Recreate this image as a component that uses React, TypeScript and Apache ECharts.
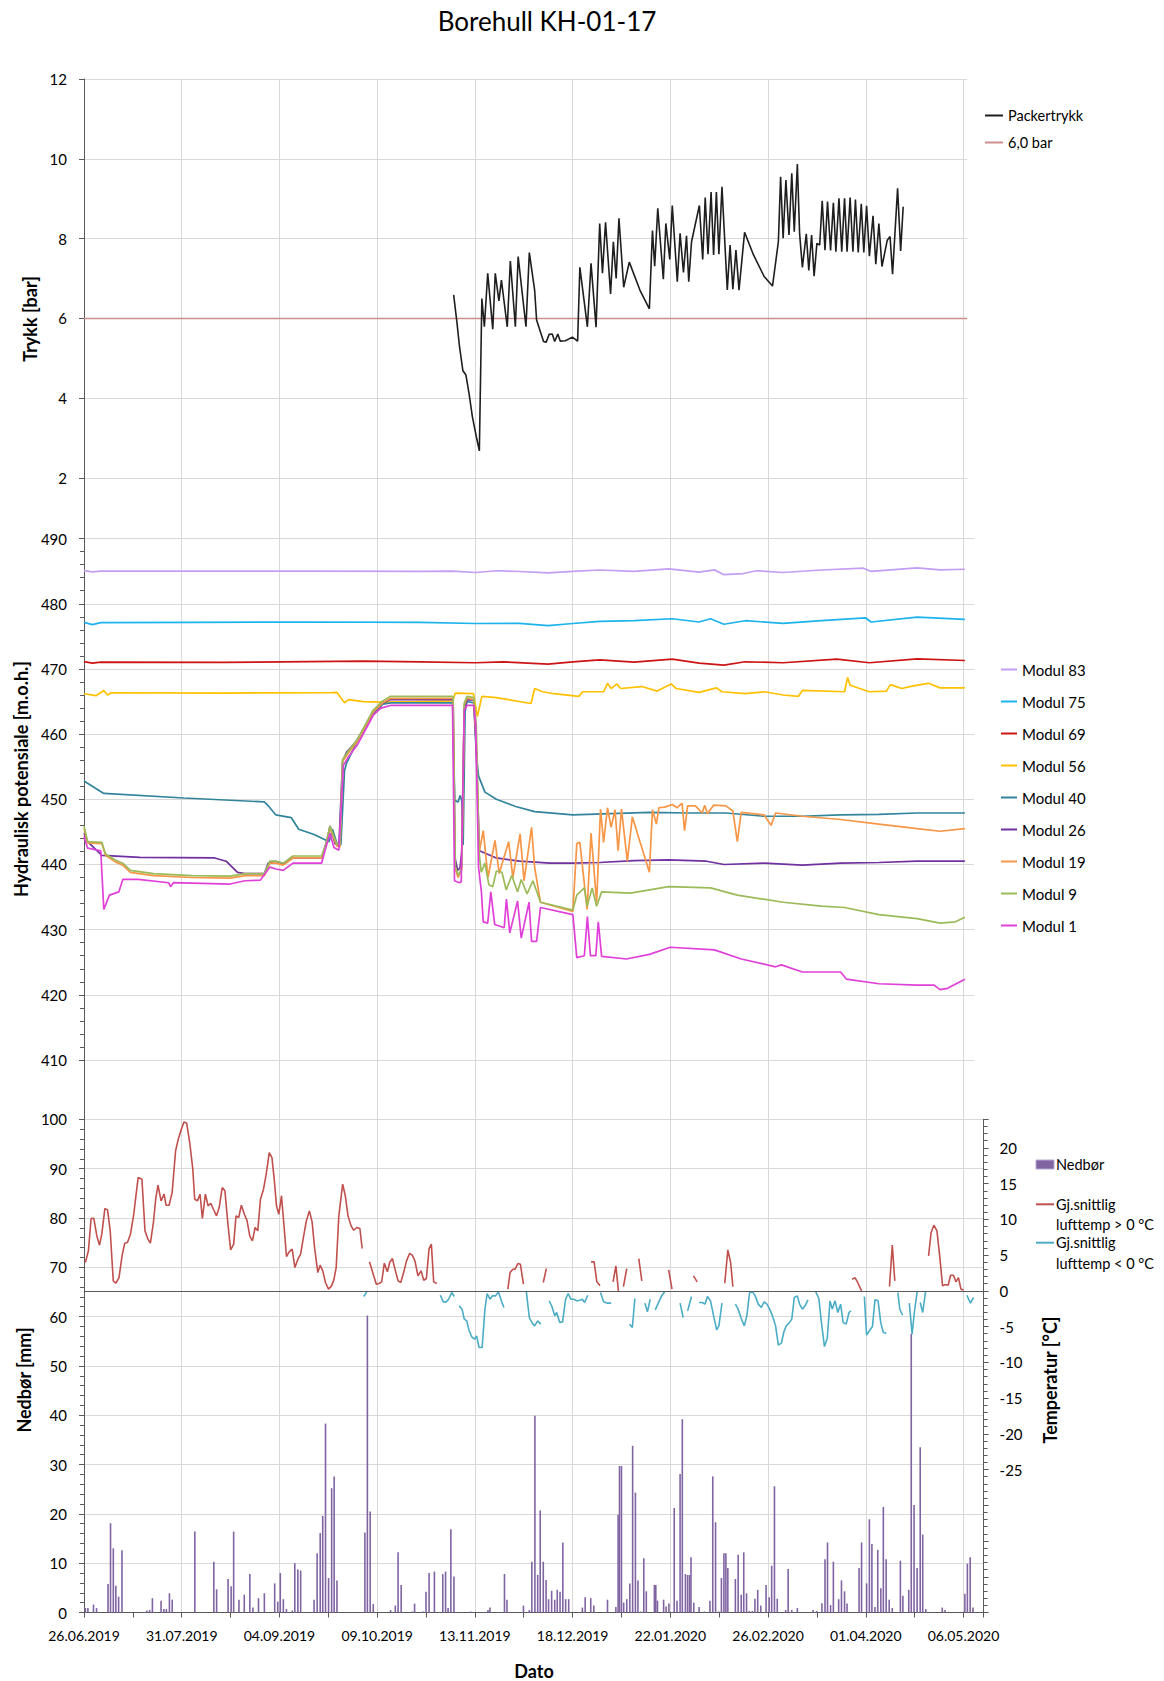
import React, { useEffect, useRef } from 'react';
import * as echarts from 'echarts';

// ---------- axis / tick data ----------
const START_UTC = Date.UTC(2019, 5, 26); // 26.06.2019 = day 0
const X_INTERVAL_DAYS = 35;
const X_MAX_TOP = 316.3;
const X_MAX_MID = 318.8;
const X_MAX_BOT = 322.2;
const X_MAX_BG = 315;
const LIMIT_BAR = 6.0;

// ---------- top panel: Packertrykk [bar] (day, value) ----------
const packertrykk: [number, number][] = [
  [132.4,6.59],[133.6,5.88],[134.5,5.29],[135.7,4.69],[136.8,4.58],[137.9,4.12],[139.1,3.54],[140.5,3.04],[141.6,2.68],
  [142.5,6.50],[143.4,5.79],[144.6,7.13],[146.4,5.73],[147.3,7.13],[148.6,6.44],[149.5,6.96],[151.6,5.79],[152.7,7.44],
  [154.5,5.79],[155.5,7.55],[158.3,5.79],[159.5,7.65],[161.4,6.71],[162.1,5.96],[164.6,5.42],[165.5,5.40],[166.6,5.60],
  [167.7,5.61],[168.6,5.42],[169.7,5.61],[170.6,5.43],[172.4,5.44],[174.9,5.53],[176.8,5.43],[177.6,7.28],[180.3,5.79],
  [181.6,7.38],[183.4,5.78],[184.7,8.38],[185.7,7.13],[186.8,8.41],[188.6,6.61],[189.6,7.92],[190.6,7.00],[191.6,8.51],
  [193.3,6.78],[195.3,7.41],[199.1,6.71],[202.5,6.24],[203.6,8.20],[204.4,7.31],[205.5,8.76],[207.5,6.98],[208.4,8.38],
  [209.8,7.48],[210.7,8.83],[212.5,6.92],[213.5,8.13],[214.7,7.15],[215.8,8.07],[216.6,6.92],[217.6,7.92],[220.4,8.83],
  [221.6,7.48],[222.5,9.03],[223.5,7.61],[224.6,9.17],[225.5,7.59],[226.5,9.17],[227.4,7.61],[228.5,9.30],[230.4,6.71],
  [231.4,7.84],[232.4,6.73],[233.5,7.71],[234.6,6.71],[236.6,8.16],[239.8,7.59],[243.6,7.05],[246.6,6.81],[248.7,7.92],
  [249.5,9.55],[250.4,8.01],[251.4,9.47],[252.5,8.09],[253.5,9.64],[254.4,8.17],[255.5,9.87],[256.3,8.13],[257.3,7.28],
  [258.7,8.12],[259.6,7.20],[260.6,8.09],[261.5,7.06],[262.5,7.88],[263.5,7.84],[264.4,8.95],[265.4,7.71],[266.3,8.93],
  [267.4,7.70],[268.4,8.90],[269.3,7.67],[270.4,9.01],[271.4,7.67],[272.4,9.01],[273.3,7.67],[274.4,9.03],[275.4,7.67],
  [276.3,8.98],[277.3,7.65],[278.4,8.87],[279.3,7.65],[280.3,8.82],[281.3,7.56],[282.6,8.57],[283.6,7.36],[284.7,8.38],
  [285.8,7.30],[287.7,7.96],[288.7,8.05],[289.6,7.11],[291.4,9.26],[292.5,7.69],[293.4,8.80]
];

// ---------- middle panel: hydraulic potential [m.o.h.] ----------
const modul83: [number, number][] = [
  [0,485.1],[3,484.9],[6,485.0],[40,485.0],[80,485.0],[120.4,484.96],[132,485.0],[140.2,484.8],[147.7,485.07],[156,484.95],
  [166.2,484.75],[175.1,484.96],[184.7,485.18],[197,484.96],[209.4,485.35],[220.3,484.86],[225.8,485.2],[229.2,484.47],
  [236.1,484.64],[240.9,485.07],[250.4,484.8],[264.1,485.18],[279.2,485.46],[281.9,484.96],[298.4,485.5],[306.6,485.2],[315.5,485.3]
];
const modul75: [number, number][] = [
  [0,477.14],[3,476.8],[6,477.1],[40,477.15],[80,477.2],[120.4,477.14],[140.2,476.97],[156,477.0],[166.2,476.64],[175.1,476.97],
  [184.7,477.3],[197,477.4],[210.7,477.7],[220.3,477.2],[224.4,477.7],[229.2,476.86],[236.8,477.4],[250.4,477.0],[264.1,477.4],
  [279.9,477.85],[281.9,477.2],[298.4,477.96],[315.5,477.6]
];
const modul69: [number, number][] = [
  [0,471.12],[3,470.9],[6,471.05],[50,471.0],[100,471.2],[120.4,471.1],[140.2,470.95],[150,471.1],[166.2,470.73],[175.1,471.1],
  [184.7,471.4],[197,471.05],[210.7,471.5],[220.3,470.9],[229.2,470.6],[236.8,471.1],[250.4,470.95],[269.6,471.5],[281.3,470.95],
  [298.4,471.55],[315.5,471.3]
];
const modul56: [number, number][] = [
  [0,466.2],[4.3,465.9],[7.1,466.7],[8.4,466.0],[9.8,466.35],[50,466.3],[87.8,466.35],[90.6,466.4],[93.3,464.8],[94.7,465.3],
  [100,465.0],[107,464.9],[120,465.0],[132,465.1],[133,466.3],[139.5,466.2],[140.9,462.7],[142.5,465.8],[147.7,465.6],[160.1,464.7],
  [161.4,467.0],[164.2,466.5],[168.3,466.2],[177.2,465.8],[178.6,466.5],[186.1,466.5],[187.5,467.8],[188.8,467.0],[190.9,467.7],
  [192.2,467.0],[199.8,467.3],[205.3,466.6],[210.3,467.7],[212.1,467.0],[220.3,466.4],[226.5,467.1],[228.5,466.5],[236.8,466.2],
  [243.6,466.5],[250.4,466.0],[255.9,465.8],[257.3,466.7],[272.4,466.5],[273.5,468.7],[274.4,467.5],[281.3,466.5],[287.4,466.6],
  [288.8,467.6],[292.9,467.0],[297,467.4],[302.5,467.8],[306.6,467.1],[315.5,467.1]
];
const modul40: [number, number][] = [
  [0,452.8],[7.1,450.9],[35.8,450.2],[64.6,449.6],[66,449.0],[68.7,447.6],[74.2,447.2],[76.9,445.4],[82.4,444.6],[87.8,443.5],
  [89,445.4],[90.6,443.2],[92,443.0],[93.3,454.4],[94,455.5],[97.4,458.5],[103.6,463.0],[107,464.6],[110,464.8],[132.0,464.8],
  [132.8,449.8],[134.0,449.6],[134.7,450.6],[135.3,449.8],[135.8,443.0],[136.5,463.5],[137.2,465.0],[139.6,464.8],[140.5,457.0],
  [141.3,453.6],[143.6,451.1],[147.7,450.0],[154.6,448.9],[161.4,448.1],[175.1,447.6],[188.8,447.8],[202.5,448.0],[216.2,447.9],
  [229.9,447.9],[243.6,447.4],[257.3,447.4],[271,447.6],[284.7,447.7],[298.4,447.9],[315.5,447.9]
];
const modul26: [number, number][] = [
  [0,444.8],[1.3,443.5],[6.4,441.4],[20,441.1],[46.8,441.0],[50.9,440.5],[55,438.8],[57.7,438.6],[64.6,438.6],[66,440.2],
  [68.7,440.5],[71.4,440.1],[74.2,441.0],[85.1,441.0],[87.2,444.0],[88.1,445.9],[89.9,443.2],[91.3,442.9],[92.6,455.8],[94,457.2],
  [97.4,458.8],[103.6,463.4],[107,464.8],[109.8,465.3],[132.2,465.3],[132.9,441.0],[133.8,439.1],[134.7,439.5],[135.3,442.0],
  [136.2,464.0],[137.2,465.3],[139.6,465.2],[140.5,458.0],[141.6,442.1],[147.7,441.0],[156,440.5],[166.9,440.2],[175.1,440.2],
  [184.7,440.3],[197,440.6],[209.4,440.7],[223,440.5],[229.2,440.0],[243.6,440.2],[257.3,439.9],[271,440.2],[284.7,440.3],
  [298.4,440.5],[315.5,440.5]
];
const modul19: [number, number][] = [
  [0,445.5],[1.3,443.3],[6.4,443.2],[7.7,441.4],[11.2,440.4],[13.9,439.9],[16.6,438.8],[24.9,438.3],[38.6,438.0],[52.3,437.9],
  [57.7,438.3],[64.6,438.3],[66.6,440.2],[68.7,440.2],[71.4,439.9],[74.8,441.0],[85.1,441.0],[86.5,442.6],[88.1,445.6],[89.5,444.0],
  [90.6,442.8],[91.7,442.7],[92.6,455.8],[94.7,457.1],[98.1,459.0],[103.6,463.4],[107,464.8],[109.8,465.5],[132.2,465.5],
  [132.9,439.4],[134.0,438.0],[135.3,439.2],[136.2,464.5],[137.2,465.5],[139.6,465.3],[140.5,459.0],[141.5,441.8],
  [143,445.2],[144.7,438],[147.2,443.7],[148.7,438.6],[152.1,443.5],[153.6,438],[156.2,444.7],[157.6,437.5],[160.3,445.7],
  [161.4,439.6],[163.5,434.2],[175.1,432.8],[176.5,443.2],[177.6,443.4],[180.2,433.1],[181.6,444.8],[183.6,434.2],[185,448.5],
  [186.1,443.4],[187.5,448.7],[188.8,445.7],[190.2,448.4],[191.3,442.1],[192.5,448.5],[194.6,440.5],[196.4,447.3],[202.5,438.8],
  [203.6,448.4],[205,446.2],[205.9,448.7],[208,448.8],[210.7,449.2],[212.4,448.7],[214.2,449.4],[215.1,445.2],[216.2,449.0],
  [219,449.0],[221.4,447.9],[222.3,449.1],[223.3,447.8],[225.5,449.1],[229.9,449.0],[232.4,448.2],[234,443.5],[235.4,448.0],
  [243.6,447.6],[246.1,446.0],[247.7,447.9],[257.3,447.4],[271,446.9],[284.7,446.2],[298.4,445.5],[306.6,445.1],[315.5,445.5]
];
const modul9: [number, number][] = [
  [0,445.9],[1.3,443.5],[6.4,443.4],[7.7,441.6],[11.2,440.7],[13.9,440.2],[16.6,439.1],[24.9,438.6],[38.6,438.3],[52.3,438.2],
  [57.7,438.6],[64.6,438.6],[66.6,440.5],[68.7,440.5],[71.4,440.2],[74.8,441.3],[85.1,441.3],[86.5,442.9],[88.1,445.9],[89.5,444.3],
  [90.6,443.1],[91.7,443.1],[92.6,456.1],[94.7,457.4],[98.1,459.3],[103.6,463.7],[107,465.1],[109.8,465.8],[132.2,465.8],
  [133.0,439.6],[134.2,438.3],[135.3,439.6],[136.2,464.8],[137.2,465.8],[139.6,465.6],[140.5,461.5],[141.5,441.8],
  [142.3,438.8],[143.6,440.2],[145,436.9],[146.4,436.6],[147.7,439.0],[149.7,438.8],[151.2,436.1],[153.2,438.3],[155.3,435.8],
  [156.6,437.7],[158.7,435.5],[160.8,437.5],[163.5,434.2],[175.1,433.0],[176.5,435.3],[179.2,436.4],[180.2,433.6],[182,436.4],
  [183.6,433.6],[185.4,435.8],[195.7,435.6],[209.4,436.6],[224.4,436.4],[234,435.3],[250.4,434.2],[264.1,433.6],[272.4,433.4],
  [284.7,432.3],[298.4,431.7],[306.6,431.0],[312.1,431.2],[315.5,431.9]
];
const modul1: [number, number][] = [
  [0,444.3],[1.3,442.5],[6.0,442.1],[7.1,433.1],[9.1,435.3],[12.5,435.8],[13.9,437.7],[19.4,437.7],[30.3,437.2],[31.0,436.6],
  [32.0,437.2],[52.3,437.0],[57.7,437.5],[63.2,437.6],[66.6,439.6],[68.7,439.3],[71.4,439.1],[74.8,440.2],[85.1,440.2],[86.5,442.4],
  [88.1,444.8],[89.5,442.6],[91.3,442.2],[92.9,455.2],[94.7,456.5],[98.1,458.5],[103.6,462.9],[106.3,464.0],[109.8,464.4],
  [132.0,464.4],[132.7,437.5],[134.5,437.2],[135.1,437.3],[136.2,463.7],[137.2,464.4],[139.6,464.4],[140.3,461.5],[141.3,439.6],
  [142.3,436.0],[143.0,431.2],[144.6,431.0],[145.7,435.8],[147.1,430.8],[150.5,430.3],[151.3,434.7],[152.5,429.5],[155.3,434.4],
  [156.6,428.7],[159.4,434.2],[160.3,428.2],[162.1,428.2],[163.5,433.4],[175.1,432.3],[176.5,425.7],[179.2,426.0],[180.3,432.0],
  [181.4,426.0],[183.3,426.0],[184.2,431.2],[185.4,425.9],[194.3,425.5],[202.5,426.2],[210,427.3],[225.8,426.9],[235.4,425.5],
  [247.7,424.3],[249.8,424.6],[257.3,423.5],[271,423.5],[273.1,422.4],[284.7,421.7],[298.4,421.5],[304.5,421.5],[306.6,420.8],
  [309.3,421.0],[315.5,422.4]
];

// ---------- bottom panel: precipitation [mm] (day, mm) ----------
const nedbor: [number, number][] = [
  [0.5,0.9],[1.4,0.9],[3.4,1.6],[4.5,0.9],[8.6,5.8],[9.5,18.1],[10.5,13.0],[11.4,5.4],[12.4,3.2],[13.6,12.6],[22.5,0.4],[23.5,0.5],
  [24.5,2.9],[27.6,2.4],[28.6,0.7],[29.5,0.7],[30.6,3.9],[31.6,2.6],[39.7,16.4],[46.5,10.3],[47.5,4.7],[51.6,6.8],[52.7,5.3],
  [53.6,16.4],[55.5,2.6],[57.4,3.6],[59.4,7.8],[60.5,1.0],[62.5,2.9],[64.6,3.9],[68.3,5.9],[69.4,2.2],[70.3,8.0],[71.4,2.7],
  [72.5,0.7],[74.6,0.4],[75.5,10.0],[76.6,8.7],[77.6,8.5],[82.4,2.6],[83.5,12.0],[84.6,16.1],[85.5,19.6],[86.5,38.3],[87.6,7.0],
  [88.7,25.2],[89.6,27.6],[90.6,6.5],[100.6,16.2],[101.5,60.2],[102.5,20.5],[103.6,1.7],[109.8,0.5],[111.5,1.4],[112.5,12.2],
  [113.6,5.6],[117.6,0.2],[118.4,1.8],[121.4,0.2],[122.5,4.2],[123.6,8.0],[125.5,8.3],[128.5,7.8],[129.5,8.3],[130.4,0.9],
  [131.4,16.9],[132.5,7.3],[138.5,0.2],[144.7,0.5],[145.4,1.0],[150.6,7.8],[151.5,2.6],[157.4,1.4],[159.5,0.5],[160.4,10.3],
  [161.5,39.9],[162.5,7.6],[163.4,20.7],[164.5,10.3],[165.5,6.6],[166.4,2.7],[167.5,4.4],[168.6,2.6],[169.5,4.6],[170.5,4.2],
  [171.5,14.2],[172.5,2.7],[173.6,2.7],[178.5,1.0],[179.5,3.1],[181.5,2.9],[182.6,1.4],[187.5,2.6],[190.5,1.1],[191.3,19.8],
  [191.8,29.7],[192.5,29.7],[193.3,2.0],[194.4,2.7],[195.5,5.9],[196.5,33.8],[197.5,24.3],[198.4,6.5],[199.4,0.2],[200.5,11.0],
  [201.4,4.3],[204.3,5.6],[204.8,5.6],[205.4,2.4],[207.6,2.6],[208.5,1.2],[209.5,1.8],[211.4,21.2],[212.4,2.4],[213.5,28.1],
  [214.3,39.2],[215.4,7.8],[216.2,7.6],[216.9,7.6],[217.4,11.2],[218.4,2.0],[220.3,1.1],[222.2,0.2],[224.2,2.4],[225.2,27.6],
  [226.2,18.3],[227.3,0.2],[228.3,7.0],[229.2,12.0],[229.9,12.0],[230.6,9.0],[233.3,6.8],[234.3,11.7],[235.4,3.6],[236.3,12.2],
  [237.3,3.9],[238.3,0.3],[239.4,0.3],[240.3,2.8],[241.3,4.6],[242.4,1.4],[244.3,5.6],[245.4,3.1],[246.3,9.5],[247.3,25.6],
  [248.3,2.8],[251.3,0.5],[252.2,8.8],[253.5,0.5],[255.5,0.9],[261.1,0.5],[262.4,0.3],[264.3,1.9],[265.4,10.8],[266.3,14.2],
  [267.4,1.5],[268.4,10.3],[270.3,2.7],[271.3,6.5],[272.4,4.3],[273.3,1.8],[277.6,9.0],[278.5,14.2],[280.3,5.9],[281.3,18.9],
  [282.2,13.9],[283.3,1.1],[284.3,12.7],[285.4,4.9],[286.3,21.4],[287.3,10.8],[288.4,2.6],[289.5,0.9],[292.4,10.5],[293.3,3.4],
  [295.4,4.6],[296.3,56.5],[297.3,21.8],[298.4,9.0],[299.5,33.5],[300.4,15.8],[301.5,0.7],[307.4,1.0],[308.4,0.5],[315.5,3.8],
  [316.4,9.9],[317.4,11.2],[318.4,1.0]
];

// ---------- bottom panel: mean air temperature [°C], segments ----------
const tempAbove0: [number, number][][] = [
  [[0.49,3.96],[1.58,5.59],[2.54,10.12],[3.5,10.16],[4.6,7.69],[5.55,6.39],[6.38,7.93],[7.47,11.51],[8.43,11.33],[9.39,8.39],
   [10.48,1.4],[11.44,1.07],[12.54,1.86],[13.63,4.9],[14.59,6.67],[15.55,6.76],[16.65,7.93],[17.74,10.49],[19.39,15.85],[20.75,15.62],
   [21.85,8.39],[22.81,7.32],[23.77,6.67],[24.86,9.56],[25.68,12.82],[26.5,14.78],[27.6,12.59],[28.7,13.52],[29.38,11.98],[30.48,11.98],
   [31.57,13.75],[32.8,19.58],[33.76,21.21],[34.86,22.61],[35.82,23.64],[36.78,23.45],[37.87,20.75],[38.97,17.02],[39.65,12.82],
   [40.61,12.59],[41.57,13.52],[42.39,10.12],[43.48,13.52],[44.44,11.89],[45.4,12.26],[46.36,11.42],[47.46,10.49],[48.41,11.66],
   [49.51,14.45],[50.47,13.99],[51.56,9.32],[52.52,5.73],[53.62,6.53],[54.44,10.49],[55.4,10.26],[56.36,11.98],[57.45,10.72],
   [58.41,9.79],[59.37,7.69],[60.33,6.99],[61.29,8.86],[62.24,8.39],[63.2,12.82],[64.3,14.22],[65.26,16.32],[66.35,19.35],
   [67.31,18.65],[68.13,15.62],[68.95,11.89],[69.78,10.72],[70.73,13.29],[71.69,8.86],[72.51,4.8],[73.47,5.45],[74.57,5.83],
   [75.53,3.26],[76.62,4.43],[77.58,5.13],[78.68,7.69],[79.64,9.79],[80.73,11.19],[81.69,9.65],[82.65,5.83],[83.74,2.56],
   [84.57,3.59],[85.52,2.8],[86.48,1.17],[87.58,0.23],[88.67,0.7],[89.49,1.54],[90.32,3.26],[91.27,10.49],[92.64,14.92],
   [93.6,13.29],[94.56,10.49],[95.66,9.09],[96.61,8.48],[97.71,8.86],[98.81,8.72],[99.63,5.92]],
  [[102.23,4.06],[103.6,2.33],[104.7,0.93],[105.65,1.03],[106.61,1.26],[107.57,3.87],[108.66,2.66],[109.49,3.96],[110.45,4.52],
   [111.54,2.8],[112.5,1.4],[113.46,1.17],[114.55,2.66],[115.51,4.2],[116.61,5.22],[117.57,4.99],[118.53,4.2],[119.62,2.1],
   [120.72,2.8],[121.68,1.49],[122.63,1.72],[123.59,5.92],[124.41,6.53],[125.24,1.26],[126.33,1.03]],
  [[151.8,0.23],[152.6,2.56],[153.6,3.03],[154.4,3.03],[155.4,3.82],[156.3,3.73],[157.4,0.93]],
  [[164.5,1.17],[165.6,3.12]],
  [[181.6,4.06],[182.7,4.06],[183.7,1.26],[184.8,0.7]],
  [[189.5,1.26],[190.5,3.5],[191.4,0]],
  [[193.2,0.6],[194.4,3.1]],
  [[198.7,4.52],[199.8,1.4]],
  [[209.4,2.94],[210.6,0.23]],
  [[218.3,2.1],[219.6,1.26]],
  [[229.5,1.07],[230.6,5.73],[231.6,3.96],[232.4,0.6]],
  [[275.1,1.63],[276.2,1.82],[277.1,1.17],[278.5,0]],
  [[288.5,0.6],[289.5,6.39],[290.4,1.4]],
  [[302.5,4.9],[303.4,8.16],[304.4,9.18],[305.5,8.39],[306.6,4.43],[307.5,0.7],[308.5,0.89],[309.5,0.79],[310.4,2.19],
   [311.4,2.19],[312.3,1.26],[313.2,1.86],[314.1,0.23],[315.1,0.14]]
];
const tempBelow0: [number, number][][] = [
  [[100.2,-0.79],[101.5,0]],
  [[127.6,-0.61],[128.7,-1.54],[129.7,-1.54],[130.6,-1.17],[131.7,-0.23],[132.6,-0.79]],
  [[134.4,-2.1],[135.4,-2.56],[136.2,-3.96],[137.1,-4.2],[137.8,-5.36],[138.8,-6.39],[139.9,-6.76],[140.6,-6.29],[141.5,-7.93],
   [142.6,-7.93],[143.6,-2.56],[144.4,-0.37],[145.4,-1.17],[146.3,-0.7],[147.4,-0.7],[148.4,-0.14],[149.5,-1.4],[150.4,-2.33]],
  [[158.4,0],[159.5,-3.73],[160.4,-4.43],[161.4,-4.9],[162.5,-4.2],[163.6,-4.66]],
  [[166.6,-1.4],[167.6,-2.19],[168.6,-3.5],[169.3,-3.03],[170.4,-4.43],[171.4,-4.34],[172.5,-1.17],[173.4,-0.37],[174.4,-1.17],
   [175.5,-1.17],[176.5,-1.4],[177.6,-1.31],[178.5,-1.17],[179.3,-1.63],[180.4,-0.61]],
  [[185.0,-0.23],[186.1,-1.54],[187.5,-1.72],[188.8,-1.72]],
  [[195.4,-4.66],[196.4,-5.13],[197.3,-1.07]],
  [[200.9,-1.72],[201.8,-2.94],[202.8,-1.17]],
  [[204.6,-2.66],[205.9,-1.54],[206.9,-0.7],[208.0,-0.14]],
  [[213.5,-1.72],[214.6,-3.73]],
  [[216.2,-2.8],[217.6,-0.79]],
  [[220.3,-1.63],[221.4,-1.63],[222.4,-1.86],[223.3,-0.79],[224.4,-1.4],[225.5,-3.5],[226.6,-5.45],[227.4,-4.9],[228.5,-1.72]],
  [[233.3,-1.86],[234.3,-2.56],[235.4,-3.87],[236.5,-4.9],[237.4,-3.5],[238.4,-0.23],[239.5,-0.14],[240.4,-0.7],[241.5,-1.86],
   [242.6,-2.33],[243.6,-1.54],[244.6,-1.86],[245.6,-2.56],[246.6,-3.5],[247.7,-4.9],[248.7,-7.6],[249.8,-7.32],[250.6,-5.83],
   [251.5,-4.9],[252.5,-4.52],[253.5,-3.96],[254.4,-0.93],[255.5,-0.7],[256.3,-1.86],[257.3,-2.56],[258.4,-2.0],[259.3,-1.26]],
  [[262.1,-0.14],[263.2,-1.07],[264.1,-4.34],[265.2,-7.79],[266.2,-6.67],[267.2,-1.4],[268.0,-2.56],[269.0,-1.4],[270.0,-3.03],
   [271.0,-1.86],[271.9,-4.43],[273.0,-4.66],[274.0,-3.03],[274.7,-2.8]],
  [[279.5,-0.79],[280.3,-6.2],[281.3,-5.59],[282.4,-4.99],[283.3,-1.26],[284.4,-1.4],[285.4,-4.52],[286.3,-5.83],[287.4,-5.92]],
  [[291.5,-0.23],[292.2,-2.61],[293.2,-3.4]],
  [[295.6,-1.72],[296.6,-6.06],[297.4,-3.03],[298.4,-0.14]],
  [[299.5,-1.63],[300.4,-3.03],[301.4,-0.14]],
  [[316.2,-0.61],[317.5,-1.72],[318.6,-0.93]]
];

const FONT = 'Lato';
const AXIS_COLOR = '#595959';
const GRID_COLOR = '#D9D9D9';

function joinSegments(segs: [number, number][][]) {
  const out: (number | null)[][] = [];
  segs.forEach((s, i) => {
    if (i > 0) {
      const prev = segs[i - 1];
      out.push([(prev[prev.length - 1][0] + s[0][0]) / 2, null]);
    }
    s.forEach((p) => out.push(p));
  });
  return out;
}

function fmtDate(v: number) {
  const d = new Date(START_UTC + Math.round(v) * 86400000);
  const dd = String(d.getUTCDate()).padStart(2, '0');
  const mm = String(d.getUTCMonth() + 1).padStart(2, '0');
  return `${dd}.${mm}.${d.getUTCFullYear()}`;
}

const PX_PER_DAY = 2.792;
const LEFT = 84;

const hiddenX = (gridIndex: number, max: number) => ({
  type: 'value', gridIndex, min: 0, max, interval: X_INTERVAL_DAYS,
  axisLine: { show: false }, axisTick: { show: false }, axisLabel: { show: false }, splitLine: { show: false }
});

const lineSeries = (name: string, data: any, color: string, xi: number, yi: number, width = 1.6) => ({
  name, type: 'line', data, xAxisIndex: xi, yAxisIndex: yi, showSymbol: false, symbol: 'none',
  color, itemStyle: { color }, lineStyle: { color, width }, connectNulls: false
});

const moduls: [string, [number, number][], string][] = [
  ['Modul 83', modul83, '#C39EF2'],
  ['Modul 75', modul75, '#1DB3EC'],
  ['Modul 69', modul69, '#CC1414'],
  ['Modul 56', modul56, '#FFC000'],
  ['Modul 40', modul40, '#31849B'],
  ['Modul 26', modul26, '#7030A0'],
  ['Modul 19', modul19, '#F79646'],
  ['Modul 9', modul9, '#9BBB59'],
  ['Modul 1', modul1, '#E040D8']
];

const axisText = (text: string, x: number, y: number, rotate: boolean) => ({
  type: 'text', x, y, rotation: rotate ? Math.PI / 2 : 0,
  style: {
    text, fill: '#000', font: `bold 18px ${FONT}`,
    textAlign: 'center', align: 'center', textVerticalAlign: 'middle', verticalAlign: 'middle'
  }
});
const legText = (text: string, x: number, y: number) => ({
  type: 'text', x, y,
  style: { text, fill: '#000', font: `14.5px ${FONT}`, textAlign: 'left', align: 'left', textVerticalAlign: 'middle', verticalAlign: 'middle' }
});

export default function App() {
  const ref = useRef<HTMLDivElement>(null);
  useEffect(() => {
    if (!ref.current) return;
    const chart = echarts.init(ref.current, null, { renderer: 'svg' });
    const option: any = {
      animation: false,
      backgroundColor: '#fff',
      textStyle: { fontFamily: FONT },
      title: {
        text: 'Borehull KH-01-17', left: 542, top: 3, textAlign: 'center',
        textStyle: { fontSize: 26, fontWeight: 'normal', color: '#000', fontFamily: FONT }
      },
      grid: [
        { left: LEFT, top: 79, width: X_MAX_BG * PX_PER_DAY, height: 1612.5 - 79 },
        { left: LEFT, top: 79, width: X_MAX_TOP * PX_PER_DAY, height: 399 },
        { left: LEFT, top: 538.6, width: X_MAX_MID * PX_PER_DAY, height: 521.4 },
        { left: LEFT, top: 1119.3, width: X_MAX_BOT * PX_PER_DAY, height: 493.2 }
      ],
      xAxis: [
        {
          type: 'value', gridIndex: 0, min: 0, max: X_MAX_BG, interval: X_INTERVAL_DAYS,
          axisLine: { show: false }, axisTick: { show: false }, axisLabel: { show: false },
          splitLine: { show: true, lineStyle: { color: GRID_COLOR, width: 1 } }
        },
        hiddenX(1, X_MAX_TOP),
        hiddenX(2, X_MAX_MID),
        {
          type: 'value', gridIndex: 3, min: 0, max: X_MAX_BOT, interval: X_INTERVAL_DAYS,
          axisLine: { show: true, onZero: false, lineStyle: { color: AXIS_COLOR, width: 1 } },
          axisTick: { show: true, inside: false, length: 5, lineStyle: { color: AXIS_COLOR } },
          minorTick: { show: true, splitNumber: 2, length: 5, lineStyle: { color: AXIS_COLOR } },
          axisLabel: {
            show: true, margin: 16, fontSize: 14, color: '#000', fontFamily: FONT,
            formatter: (v: number) => (v <= X_MAX_BG + 0.01 ? fmtDate(v) : '')
          },
          splitLine: { show: false }
        }
      ],
      yAxis: [
        {
          type: 'value', gridIndex: 0, min: 0, max: 1,
          axisLine: { show: true, lineStyle: { color: AXIS_COLOR, width: 1 } },
          axisTick: { show: false }, axisLabel: { show: false }, splitLine: { show: false }
        },
        {
          type: 'value', gridIndex: 1, min: 2, max: 12, interval: 2,
          axisLine: { show: false },
          axisTick: { show: true, length: 5, lineStyle: { color: AXIS_COLOR } },
          axisLabel: { margin: 17, fontSize: 15, color: '#000', fontFamily: FONT },
          splitLine: { show: true, lineStyle: { color: GRID_COLOR } }
        },
        {
          type: 'value', gridIndex: 2, min: 410, max: 490, interval: 10,
          axisLine: { show: false },
          axisTick: { show: true, length: 5, lineStyle: { color: AXIS_COLOR } },
          minorTick: { show: true, splitNumber: 5, length: 4, lineStyle: { color: AXIS_COLOR } },
          axisLabel: { margin: 17, fontSize: 15, color: '#000', fontFamily: FONT },
          splitLine: { show: true, lineStyle: { color: GRID_COLOR } }
        },
        {
          type: 'value', gridIndex: 3, min: 0, max: 100, interval: 10, position: 'left',
          axisLine: { show: false },
          axisTick: { show: true, length: 5, lineStyle: { color: AXIS_COLOR } },
          minorTick: { show: true, splitNumber: 5, length: 4, lineStyle: { color: AXIS_COLOR } },
          axisLabel: { margin: 17, fontSize: 15, color: '#000', fontFamily: FONT },
          splitLine: { show: true, lineStyle: { color: GRID_COLOR } }
        },
        {
          type: 'value', gridIndex: 3, min: -45, max: 24, interval: 5, position: 'right',
          axisLine: { show: true, onZero: false, lineStyle: { color: AXIS_COLOR, width: 1 } },
          axisTick: { show: true, length: 5, lineStyle: { color: AXIS_COLOR } },
          minorTick: { show: true, splitNumber: 5, length: 4, lineStyle: { color: AXIS_COLOR } },
          axisLabel: {
            margin: 16, fontSize: 15, color: '#000', fontFamily: FONT,
            formatter: (v: number) => (v >= -25 && v <= 20 && Math.abs(v % 5) < 1e-6 ? String(v) : '')
          },
          splitLine: { show: false }
        }
      ],
      legend: [
        {
          data: ['Packertrykk', '6,0 bar'], orient: 'vertical', left: 985, top: 108, padding: 0,
          icon: 'rect', itemWidth: 18, itemHeight: 2, itemGap: 12,
          textStyle: { fontSize: 14.5, color: '#000', fontFamily: FONT }
        },
        {
          data: moduls.map((m) => m[0]), orient: 'vertical', left: 1001, top: 662, padding: 0,
          icon: 'rect', itemWidth: 16, itemHeight: 2, itemGap: 17,
          textStyle: { fontSize: 15, color: '#000', fontFamily: FONT }
        }
      ],
      series: [
        lineSeries('6,0 bar', [[0, LIMIT_BAR], [X_MAX_TOP, LIMIT_BAR]], '#CC8E8E', 1, 1, 1.5),
        lineSeries('Packertrykk', packertrykk, '#1E1E1E', 1, 1, 1.6),
        ...moduls.map((m) => lineSeries(m[0], m[1], m[2], 2, 2, 1.7)),
        {
          name: 'Nedbør', type: 'bar', data: nedbor, xAxisIndex: 3, yAxisIndex: 3,
          barWidth: 1.6, itemStyle: { color: '#8064A2' }, color: '#8064A2'
        },
        {
          ...lineSeries('Gj.snittlig lufttemp > 0 °C', joinSegments(tempAbove0), '#C0504D', 3, 4, 1.6),
          markLine: {
            silent: true, symbol: 'none', label: { show: false },
            lineStyle: { color: '#595959', width: 1, type: 'solid' },
            data: [{ yAxis: 0 }]
          }
        },
        lineSeries('Gj.snittlig lufttemp < 0 °C', joinSegments(tempBelow0), '#4BACC6', 3, 4, 1.6)
      ],
      graphic: [
        axisText('Trykk [bar]', 30, 319, true),
        axisText('Hydraulisk potensiale [m.o.h.]', 21, 779, true),
        axisText('Nedbør [mm]', 24, 1380, true),
        axisText('Temperatur [°C]', 1050, 1380, true),
        axisText('Dato', 534, 1671, false),
        { type: 'rect', shape: { x: 1036, y: 1160, width: 18, height: 9 }, style: { fill: '#8064A2', stroke: '#B7A6D1', lineWidth: 1 } },
        legText('Nedbør', 1056, 1164.5),
        { type: 'line', shape: { x1: 1036, y1: 1204.3, x2: 1054, y2: 1204.3 }, style: { stroke: '#C0504D', lineWidth: 2 } },
        legText('Gj.snittlig', 1056, 1204.3),
        legText('lufttemp > 0 °C', 1056, 1224),
        { type: 'line', shape: { x1: 1036, y1: 1242.7, x2: 1054, y2: 1242.7 }, style: { stroke: '#4BACC6', lineWidth: 2 } },
        legText('Gj.snittlig', 1056, 1242.7),
        legText('lufttemp < 0 °C', 1056, 1263.5)
      ]
    };
    chart.setOption(option);
    return () => chart.dispose();
  }, []);
  return <div ref={ref} style={{ position: 'absolute', left: 0, top: 0, width: 1164, height: 1681 }} />;
}
